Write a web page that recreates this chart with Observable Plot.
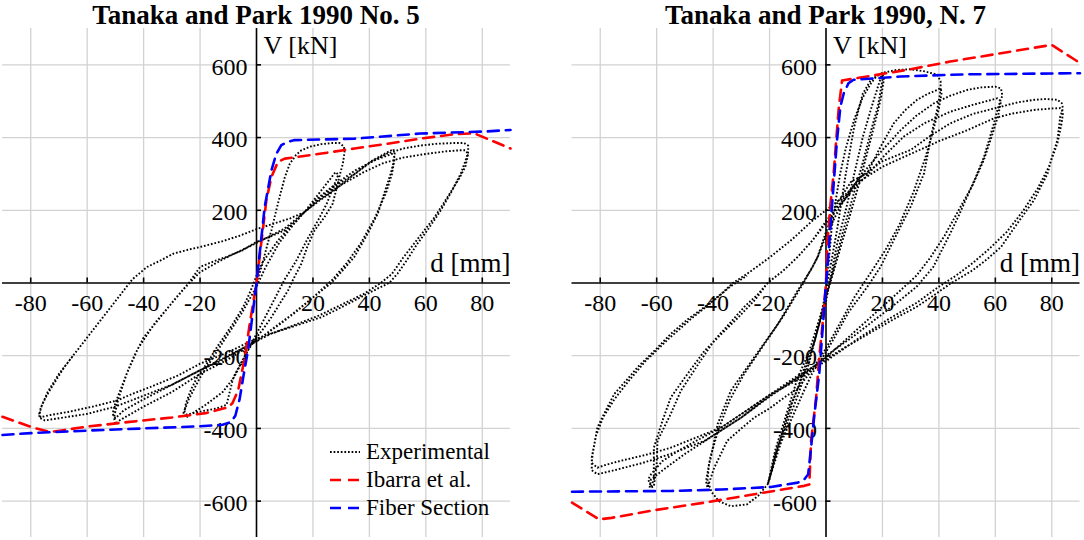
<!DOCTYPE html>
<html>
<head>
<meta charset="utf-8">
<script src="https://cdn.jsdelivr.net/npm/d3@7"></script>
<script src="https://cdn.jsdelivr.net/npm/@observablehq/plot@0.6"></script>
<style>
  html, body { margin: 0; padding: 0; background: #fff; }
  body { font-family: "Liberation Serif", "Times New Roman", serif; }
  #wrap { position: relative; width: 1084px; height: 540px; display: flex; overflow: hidden; }
  .panel { position: relative; }
  .title { box-sizing: border-box; height: 28px; padding-top: 3px; font-weight: bold; font-size: 27px; line-height: 25px; text-align: center; white-space: nowrap; color: #000; }
  .legend { position: absolute; font-size: 23px; color: #000; }
  .legend .row { display: flex; align-items: center; height: 28px; }
  .legend svg { display: block; margin-right: 6px; }
</style>
</head>
<body>
<div id="wrap"></div>
<script>
// ---------- tick values ----------
const xTicks = [-80, -60, -40, -20, 20, 40, 60, 80];
const yTicks = [-600, -400, -200, 200, 400, 600];
const xDomain = [-90, 90];
const yDomain = [-700, 700];

// ---------- titles / labels ----------
const titles = ["Tanaka and Park 1990 No. 5", "Tanaka and Park 1990, N. 7"];
const legendLabels = ["Experimental", "Ibarra et al.", "Fiber Section"];
const xLabel = "d [mm]";
const yLabel = "V [kN]";

// ---------- Specimen No. 5 : [d (mm), V (kN)] ----------
const exp5 = [
  [0,0],[2,50],[4,110],[5.3,145],[7,200],[8.2,237],[10,290],[11.8,328],[14,352],[15.9,365],[19,375],[23,382],[27,385],[29.4,385],[31,375],[31.2,360],[30.6,328],[29.6,300],[28.8,273],[27,218],[24,180],[20.6,145],[18,100],[15.9,53],[13,10],[11.2,-20],[8,-60],[5.3,-94],[2.5,-125],[0,-150],[-3,-185],[-5.5,-220],[-8.2,-260],[-9.5,-300],[-10.6,-335],
  [-14,-345],[-19,-352],[-24.7,-362],[-25.5,-355],[-25,-330],[-23,-290],[-21,-259],[-17,-215],[-14,-176],[-9,-120],[-4.7,-66],[-2,-20],[0,20],[2,55],[7.6,117],[12,155],[17,195],[22,245],[28,305],[29,298],
  [27,260],[25,220],[22,175],[18,120],[14,60],[10,10],[6,-50],[2,-110],[0,-140],[-4,-200],[-8,-260],[-12,-300],[-18,-335],[-25,-370],[-26,-360],[-24,-320],[-20,-260],[-15,-200],[-10,-140],[-5,-80],[0,-10],[3,40],
  [8,110],[13,160],[17,195],[22,232],[27.6,265],[34.7,300],[40.6,335],[46.5,360],[48.5,368],[49,355],[48.5,330],[47.5,300],[45,240],[43,191],[39,130],[34.7,72],[30,30],[26.5,0],[20,-40],[14.7,-75],[8,-115],[0,-158],[-6,-185],[-13,-215],[-20,-240],[-30,-280],[-40,-320],[-47,-350],[-50,-372],[-51,-360],[-50,-330],[-48,-290],[-45.5,-240],[-43.5,-204],[-40,-150],[-35,-103],[-29,-45],[-24,0],[-20,44],[-15,60],[-10.6,72],[-5,90],[0,113],[5,128],[10,145],[14,170],[17,195],[22,235],[28,272],[35,310],[42,338],[48,355],[49,345],[48,300],[46,250],[42,180],[37,110],[32,55],[27,10],[20,-40],[12,-90],[5,-130],[0,-160],[-10,-210],[-20,-250],[-30,-300],[-40,-340],[-49,-380],[-50,-388],[-50.5,-370],[-49,-320],[-46,-250],[-42,-180],[-36,-110],[-30,-55],[-25,-10],[-20,30],[-12,65],[0,110],[10,150],[17,195],
  [22,225],[27.6,255],[34,295],[40.6,333],[46,355],[52,370],[58,378],[64,383],[70,385],[73.5,385],[75,378],[75,360],[74,335],[72.4,301],[69,250],[65.3,200],[61,150],[57,108],[53,60],[50,26],[47,0],[43,-15],[39.4,-29],[33,-55],[28,-75],[23,-94],[16,-112],[8.8,-130],[4,-142],[0,-153],[-10,-190],[-20,-222],[-28,-255],[-37.6,-286],[-44,-305],[-49.4,-323],[-58,-340],[-67,-355],[-73,-363],[-76.5,-369],[-77,-360],[-76,-335],[-74,-305],[-71.8,-277],[-68,-230],[-63.5,-185],[-58,-130],[-52,-70],[-47,-20],[-44,10],[-38.8,44],[-34,62],[-29.4,81],[-24,92],[-20,99],[-12,115],[-6,130],[0,148],[6,163],[12,178],[17,195],
  [22,228],[30,270],[38,305],[45,330],[52,345],[60,355],[67,362],[72,365],[74,365],[75,355],[74,320],[72,290],[68,240],[63,180],[57,120],[52,70],[48,25],[44,0],[38,-30],[30,-60],[22,-90],[12,-120],[5,-140],[0,-160],[-10,-200],[-20,-240],[-30,-280],[-40,-310],[-50,-340],[-60,-360],[-70,-372],[-75,-378],[-77,-370],[-76.5,-345],[-74,-300],[-70,-250],[-65,-200]
];
const ibarra5 = [
  [-90,-368],[-79,-398],[-73,-410],[-60,-395],[-45,-382],[-30,-370],[-18,-358],[-10,-342],[-8.5,-330],[-6.5,-295],[-4.1,-204],[-2.4,-112],[0,0],[1.8,117],[3.5,228],[5.3,292],[7.6,333],[10,342],[23,356],[34.7,370],[46.5,383],[58,397],[70,409],[77,412],[90,370]
];
const fiber5 = [
  [-90,-418],[-80,-413],[-60,-406],[-40,-400],[-20,-394],[-12,-390],[-9,-382],[-7.5,-365],[-6,-320],[-4.5,-250],[-2.9,-180],[0,0],[2.9,209],[5.3,310],[7,355],[8.8,379],[11,388],[13.5,393],[34.7,397],[58,411],[81.8,417],[90,421]
];

// ---------- Specimen No. 7 : [d (mm), V (kN)] ----------
const exp7 = [
  [0,0],[1,60],[2,150],[3.5,230],[5,300],[7,370],[10,450],[13,510],[16,550],[18,570],[20,577],[20.5,560],[19.5,510],[18,460],[16,400],[14,340],[12,280],[9,200],[6,120],[3,40],[0,-40],[-2,-100],[-4,-160],[-6,-200],[-8,-240],[-10,-290],[-12.4,-335],[-15,-400],[-17,-450],[-19,-510],[-20.7,-554],
  [-20,-540],[-18,-470],[-15,-400],[-12,-330],[-9,-270],[-6,-210],[-3,-130],[0,-50],[2,30],[4,110],[7,200],[10,300],[13,400],[16,480],[18,530],[19.9,577],[20,560],[18.5,490],[16,420],[13,330],[10,250],[6,140],[2,20],[-2,-90],[-6,-190],[-10,-260],[-14,-360],[-18,-460],[-20.5,-550],
  [-19,-500],[-15,-410],[-10,-310],[-6,-220],[-2,-100],[1,20],[4,150],[7,300],[10,430],[13,520],[16,560],[20,578],[25,586],[30,588],[35,582],[39.4,573],[40.6,555],[40.6,531],[39.5,480],[38.2,439],[37,393],[34.7,301],[30,210],[24,118],[19.3,44],[14.6,-11],[8,-80],[3,-150],[0,-190],[-3,-225],[-5,-250],[-8,-300],[-12,-370],[-16,-440],[-20.7,-554],[-24,-585],[-28,-609],[-33.7,-614],[-38,-600],[-40.5,-575],[-42,-545],[-41.5,-500],[-40.8,-480],[-38.4,-388],[-33.7,-296],[-25.4,-204],[-17,-112],[-10,-20],[-5,40],[-3,72],[0,140],[4,220],[9,280],[14.6,301],
  [19,370],[24,439],[28,475],[32.3,504],[36,520],[39.4,531],[40.5,536],[41,525],[40,480],[38,420],[35,340],[31,250],[26,160],[21,90],[16,30],[10,-40],[5,-110],[0,-180],[-5,-240],[-10,-290],[-14.8,-315],[-20,-345],[-25.4,-370],[-30,-400],[-35,-434],[-39.6,-508],[-42,-563],[-42.5,-545],[-41,-480],[-38,-400],[-34,-320],[-29,-250],[-22,-170],[-15,-90],[-8,0],[-3,70],[0,130],[5,210],
  [10,270],[15,320],[20.5,370],[26.4,420],[32,460],[38.2,494],[44,515],[50,531],[55,538],[60,540],[62,535],[62.5,515],[61.9,504],[60.5,470],[59.5,439],[56,347],[53,290],[50,237],[47,185],[44,136],[41,90],[38,44],[32,-11],[25,-55],[20,-85],[10,-145],[0,-200],[-5,-240],[-12,-275],[-19.5,-305],[-28,-350],[-37,-397],[-45,-430],[-52,-460],[-58,-490],[-62,-526],[-63,-540],[-62,-560],[-61,-540],[-61,-453],[-58,-380],[-55,-315],[-50,-260],[-43,-186],[-37,-140],[-31,-94],[-25,-45],[-20.7,0],[-15,35],[-10,72],[-4.7,118],[0,165],[5,215],[10,260],[15,300],[20,345],[27.6,403],[35,440],[44,471],[52,490],[60.7,508],[62,500],[61,460],[59,410],[56,340],[52,270],[47,200],[42,130],[37,70],[32,20],[25,-30],[15,-100],[5,-170],[0,-205],[-8,-250],[-19.5,-310],[-30,-370],[-40,-420],[-50,-470],[-57,-510],[-62,-540],[-62.5,-563],[-61,-560],[-60,-500],[-59.7,-434],[-55,-360],[-51.4,-296],[-45,-220],[-39.6,-158],[-34,-110],[-29,-66],[-24,-30],[-20.7,0],[-15,35],[-10,72],[-4.7,118],[0,170],[5,220],
  [12,290],[20,335],[30,366],[37,405],[44,439],[52,465],[62,485],[68,497],[74,504],[78,506],[82,504],[83.5,495],[84,480],[83,458],[82,393],[80,345],[78.5,301],[73.7,228],[67.8,164],[62,99],[57,65],[52,35],[44,-2],[38,-35],[32,-66],[25,-95],[15,-140],[5,-185],[0,-210],[-10,-255],[-19.5,-305],[-28,-350],[-37,-397],[-46,-425],[-55,-453],[-64,-473],[-72.7,-489],[-78,-500],[-81,-508],[-83,-495],[-82.7,-471],[-81,-397],[-78,-350],[-75,-305],[-71,-270],[-66.8,-232],[-60,-180],[-55,-140],[-49,-100],[-43,-66],[-37,-29],[-33,0],[-27.8,26],[-20,70],[-12,120],[-5,170],[0,200],[5,230],
  [12,280],[20,320],[30,355],[40,390],[50,420],[59.5,453],[66,466],[73.7,476],[80,480],[83,481],[84,470],[83.5,440],[82,385],[79,320],[75,260],[70,200],[64,140],[58,95],[52,55],[46,20],[40,-10],[32,-55],[22,-100],[12,-150],[0,-215],[-10,-260],[-20,-310],[-30,-370],[-43,-434],[-55,-470],[-65,-495],[-75,-515],[-81,-526],[-83,-515],[-83,-480],[-81.5,-420],[-79,-370],[-75,-320],[-70,-270],[-64,-215],[-56,-155],[-48,-100],[-40,-50],[-34,-10],[-28,20]
];
const ibarra7 = [
  [-90,-604],[-80.4,-650],[-76,-646],[-60.9,-625],[-43,-604],[-25.4,-581],[-7.7,-558],[-5.9,-554],[-5.3,-434],[-3.5,-315],[-2.4,-204],[-1.2,-112],[0,0],[0.4,99],[1.5,210],[2.7,301],[4.5,480],[5.7,557],[14.6,568],[30,588],[44,609],[62,632],[80,655],[90,605]
];
const fiber7 = [
  [-90,-574],[-55,-572],[-37,-568],[-19.5,-561],[-10,-549],[-7.7,-540],[-6.3,-526],[-5.3,-453],[-4.1,-361],[-2.4,-250],[-0.6,-66],[0,0],[0.35,26],[2.1,210],[3.9,393],[5.1,485],[6.3,522],[8,550],[9.8,559],[26.4,568],[50,574],[90,577]
];

// ---------- styles ----------
const expStyle = {stroke: "#000", strokeWidth: 1.9, strokeDasharray: "1.7,1.9", strokeLinecap: "butt"};
const ibarraStyle = {stroke: "#ff0000", strokeWidth: 2.6, strokeDasharray: "11,7"};
const fiberStyle = {stroke: "#0000ff", strokeWidth: 2.6, strokeDasharray: "11,7"};

const PLOT_W = 508, PLOT_H = 509;

function panel(title, exp, ibarra, fiber, mL, mR, withLegend) {
  const W = mL + PLOT_W + mR;
  const H = PLOT_H + 3;
  const kx = (xDomain[1] - xDomain[0]) / PLOT_W; // data units per px
  const ky = (yDomain[1] - yDomain[0]) / PLOT_H;
  const div = document.createElement("div");
  div.className = "panel";
  div.style.width = W + "px";
  const t = document.createElement("div");
  t.className = "title";
  t.style.paddingLeft = mL + "px";
  t.style.paddingRight = mR + "px";
  t.textContent = title;
  div.appendChild(t);
  const chart = Plot.plot({
    width: W, height: H,
    marginLeft: mL, marginRight: mR, marginTop: 0, marginBottom: 3,
    x: {domain: xDomain, axis: null},
    y: {domain: yDomain, axis: null},
    style: {fontFamily: "'Liberation Serif', 'Times New Roman', serif", background: "white", overflow: "visible", color: "black"},
    marks: [
      Plot.ruleX(xTicks, {x: d => d, stroke: "#d2d2d2", strokeWidth: 1.3}),
      Plot.ruleY(yTicks, {y: d => d, stroke: "#d2d2d2", strokeWidth: 1.3}),
      Plot.ruleY([0], {y: d => d, stroke: "#000", strokeWidth: 1.6}),
      Plot.ruleX([0], {x: d => d, stroke: "#000", strokeWidth: 1.6}),
      Plot.ruleX(xTicks, {x: d => d, y1: () => 0, y2: () => 5 * ky, stroke: "#000", strokeWidth: 1.6}),
      Plot.ruleY(yTicks, {y: d => d, x1: () => 0, x2: () => 5 * kx, stroke: "#000", strokeWidth: 1.6}),
      Plot.text(xTicks, {x: d => d, y: () => 0, dy: 20, text: d => String(d), fontSize: 24, fill: "#000"}),
      Plot.text(yTicks, {x: () => 0, y: d => d, dx: -9, dy: 2, textAnchor: "end", text: d => String(d), fontSize: 24, fill: "#000"}),
      Plot.text([yLabel], {x: () => 0, y: () => yDomain[1], dx: 7, dy: 17, textAnchor: "start", text: d => d, fontSize: 26, fill: "#000"}),
      Plot.text([xLabel], {x: () => xDomain[1], y: () => 0, dy: -20, textAnchor: "end", text: d => d, fontSize: 27, fill: "#000"}),
      Plot.line(exp, {x: d => d[0], y: d => d[1], ...expStyle}),
      Plot.line(ibarra, {x: d => d[0], y: d => d[1], ...ibarraStyle}),
      Plot.line(fiber, {x: d => d[0], y: d => d[1], ...fiberStyle})
    ]
  });
  div.appendChild(chart);
  if (withLegend) {
    const lg = document.createElement("div");
    lg.className = "legend";
    lg.style.left = "330px";
    lg.style.top = "438px";
    const styles = [expStyle, ibarraStyle, fiberStyle];
    legendLabels.forEach((lab, i) => {
      const row = document.createElement("div");
      row.className = "row";
      const s = styles[i];
      row.innerHTML = `<svg width="30" height="28"><line x1="0" x2="30" y1="14" y2="14" stroke="${s.stroke}" stroke-width="${s.strokeWidth}" stroke-dasharray="${s.strokeDasharray}"/></svg><span>${lab}</span>`;
      lg.appendChild(row);
    });
    div.appendChild(lg);
  }
  return div;
}

const wrap = document.getElementById("wrap");
wrap.appendChild(panel(titles[0], exp5, ibarra5, fiber5, 2, 33, true));
wrap.appendChild(panel(titles[1], exp7, ibarra7, fiber7, 28.5, 4.5, false));
</script>
</body>
</html>
